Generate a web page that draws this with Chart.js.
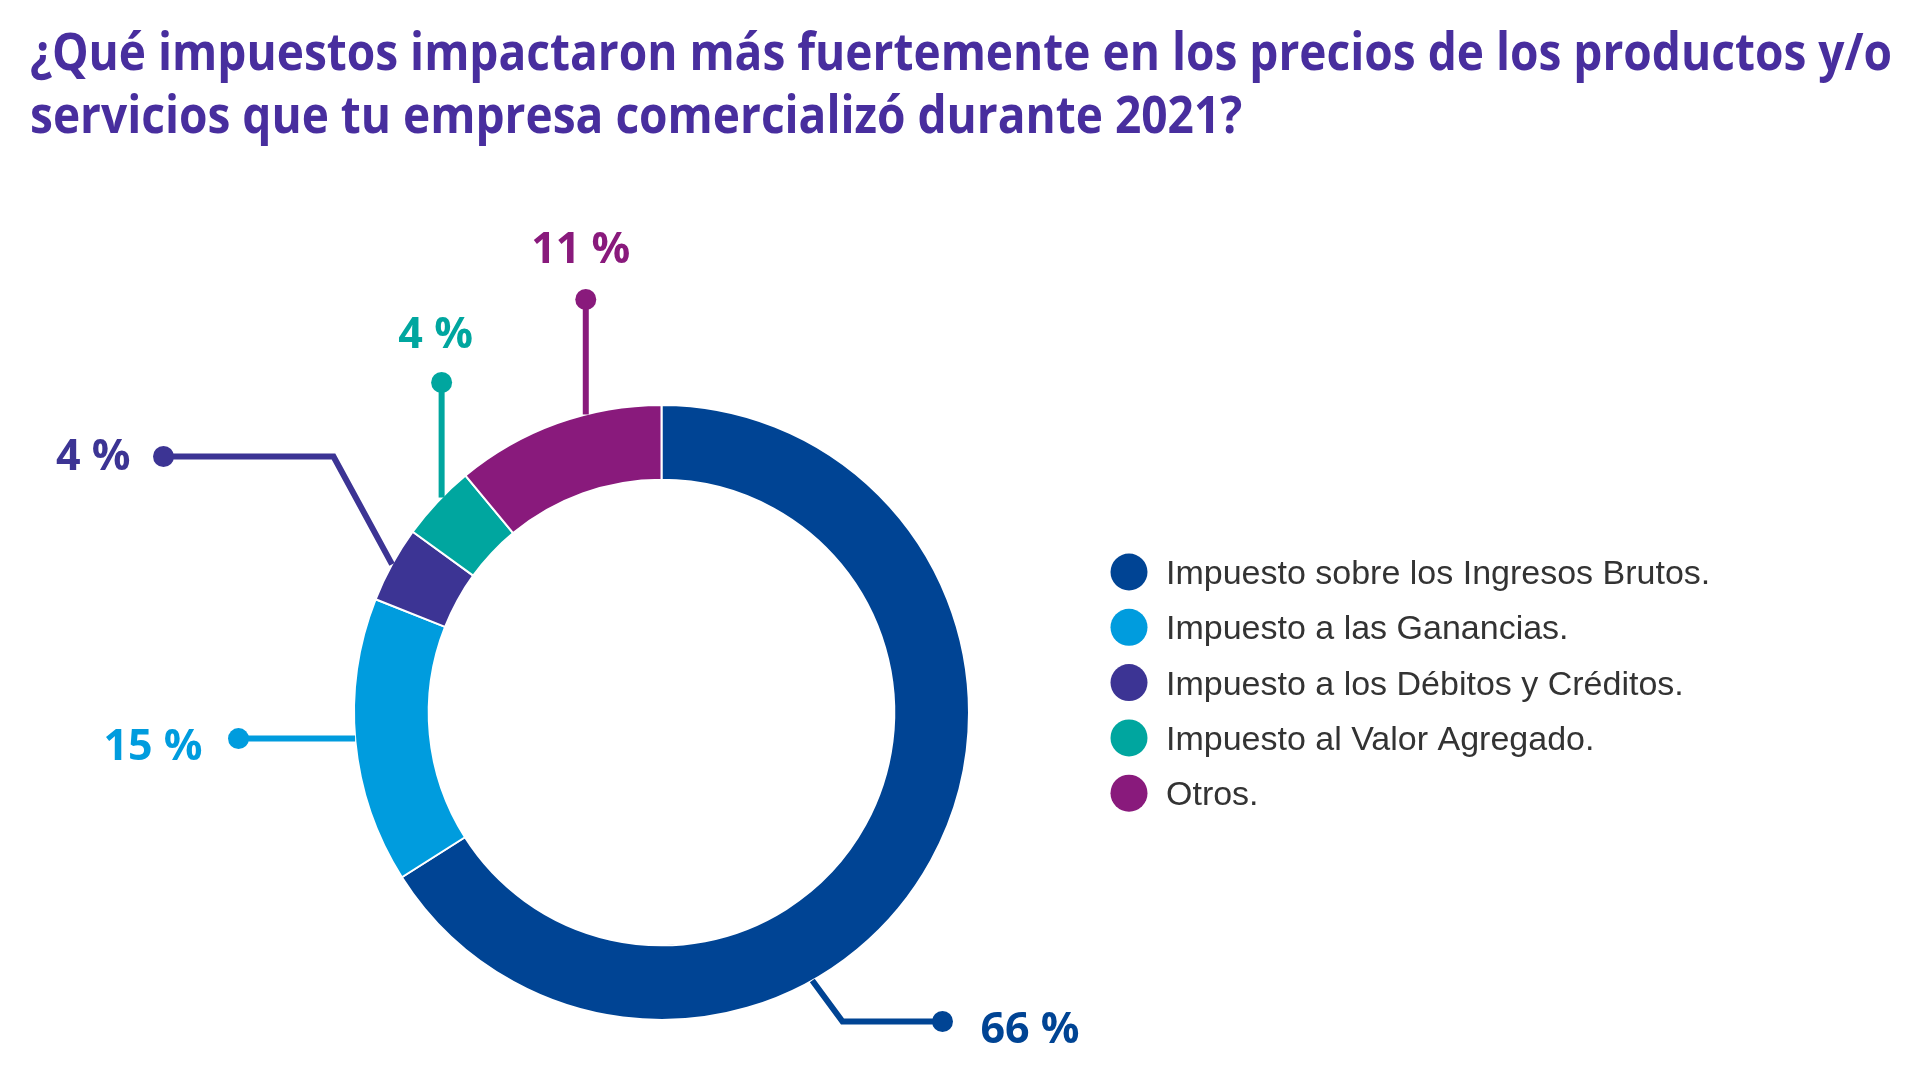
<!DOCTYPE html>
<html lang="es">
<head>
<meta charset="utf-8">
<title>Impuestos 2021</title>
<script src="https://cdn.jsdelivr.net/npm/chart.js@4.4.1/dist/chart.umd.min.js"></script>
<style>
  html, body { margin: 0; padding: 0; background: #fff; }
  body { width: 1920px; height: 1080px; position: relative; overflow: hidden; }
  #chart { position: absolute; left: 0; top: 0; }
  #titulo {
    position: absolute; left: 30px; top: 18px;
    font-family: "Open Sans", sans-serif; font-weight: 700;
    font-size: 52px; line-height: 63px; color: #482e9e;
    white-space: nowrap;
  }
  #titulo div { transform-origin: 0 0; }
  #titulo span { display: inline-block; }
</style>
</head>
<body>
<div id="titulo">
  <div><span>¿Qué impuestos impactaron más fuertemente en los precios de los productos y/o</span></div>
  <div><span>servicios que tu empresa comercializó durante 2021?</span></div>
</div>
<canvas id="chart" width="1920" height="1080"></canvas>

<script>
// datos
const categorias = [
  'Impuesto sobre los Ingresos Brutos.',
  'Impuesto a las Ganancias.',
  'Impuesto a los Débitos y Créditos.',
  'Impuesto al Valor Agregado.',
  'Otros.'
];
const porcentajes = [66, 15, 4, 4, 11];
const colores = ['#004494', '#009cde', '#3c3494', '#00a69f', '#891a7c'];

// ajustar el ancho del título (la fuente original es más angosta)
const lineas = document.querySelectorAll('#titulo div');
const ancho = lineas[0].querySelector('span').getBoundingClientRect().width;
const escala = 1862 / ancho;
lineas.forEach(l => l.style.transform = 'scaleX(' + escala + ')');

// guías de las etiquetas (posición relativa al centro del anillo)
const guias = [
  {frac: 0.634, codo: [181, 309], punto: [281, 309], texto: [38, 21], align: 'left'},
  {frac: 0.51, horiz: -423, texto: [-36, 21], align: 'right'},
  {frac: 0.5, codo: [-328, -256], punto: [-498, -256], texto: [-33, 13], align: 'right'},
  {frac: 0.58, vert: -330, texto: [-6, -35], align: 'center'},
  {frac: 0.64, vert: -413, texto: [-5, -37], align: 'center'}
];

const etiquetas = {
  id: 'etiquetas',
  afterDatasetsDraw(chart){
    const ctx = chart.ctx;
    const arcs = chart.getDatasetMeta(0).data;
    const valores = chart.data.datasets[0].data;

    arcs.forEach((arc, i) => {
      const g = guias[i];
      const col = chart.data.datasets[0].backgroundColor[i];
      const a = arc.startAngle + g.frac * (arc.endAngle - arc.startAngle);
      const r = arc.outerRadius;
      const ax = arc.x + r * Math.cos(a);
      const ay = arc.y + r * Math.sin(a);

      let pts = [[ax, ay]];
      let dot;
      if(g.codo){
        pts.push([arc.x + g.codo[0], arc.y + g.codo[1]]);
        dot = [arc.x + g.punto[0], arc.y + g.punto[1]];
      } else if(g.horiz !== undefined){
        dot = [arc.x + g.horiz, ay];
      } else {
        dot = [ax, arc.y + g.vert];
      }
      pts.push(dot);

      ctx.save();
      ctx.strokeStyle = col;
      ctx.fillStyle = col;
      ctx.lineWidth = 6;
      ctx.lineJoin = 'miter';
      ctx.beginPath();
      ctx.moveTo(pts[0][0], pts[0][1]);
      for(let k=1; k<pts.length; k++) ctx.lineTo(pts[k][0], pts[k][1]);
      ctx.stroke();

      ctx.beginPath();
      ctx.arc(dot[0], dot[1], 10.5, 0, Math.PI*2);
      ctx.fill();

      ctx.font = 'bold 43px "Open Sans"';
      ctx.textAlign = g.align;
      ctx.textBaseline = 'alphabetic';
      ctx.fillText(valores[i] + ' %', dot[0] + g.texto[0], dot[1] + g.texto[1]);
      ctx.restore();
    });
  }
};

// leyenda a la derecha
const leyenda = {
  id: 'leyenda',
  afterDraw(chart){
    const ctx = chart.ctx;
    const ds = chart.data.datasets[0];
    ctx.save();
    ctx.font = '34px "Liberation Sans"';
    ctx.textAlign = 'left';
    ctx.textBaseline = 'alphabetic';
    chart.data.labels.forEach((lab, i) => {
      const y = 572 + i * 55.3;
      ctx.fillStyle = ds.backgroundColor[i];
      ctx.beginPath();
      ctx.arc(1129, y, 18.5, 0, Math.PI*2);
      ctx.fill();
      ctx.fillStyle = '#333333';
      ctx.fillText(lab, 1166, y + 12);
    });
    ctx.restore();
  }
};

const chart = new Chart(document.getElementById('chart'), {
  type: 'doughnut',
  data: {
    labels: categorias,
    datasets: [{
      data: porcentajes,
      backgroundColor: colores,
      borderColor: '#ffffff',
      borderWidth: 2
    }]
  },
  options: {
    responsive: false,
    devicePixelRatio: 1,
    animation: false,
    cutout: '75.7%',
    layout: {
      padding: {left: 353, top: 404, right: 950, bottom: 59}
    },
    plugins: {
      legend: { display: false },
      tooltip: { enabled: false }
    }
  },
  plugins: [etiquetas, leyenda]
});
</script>
</body>
</html>
